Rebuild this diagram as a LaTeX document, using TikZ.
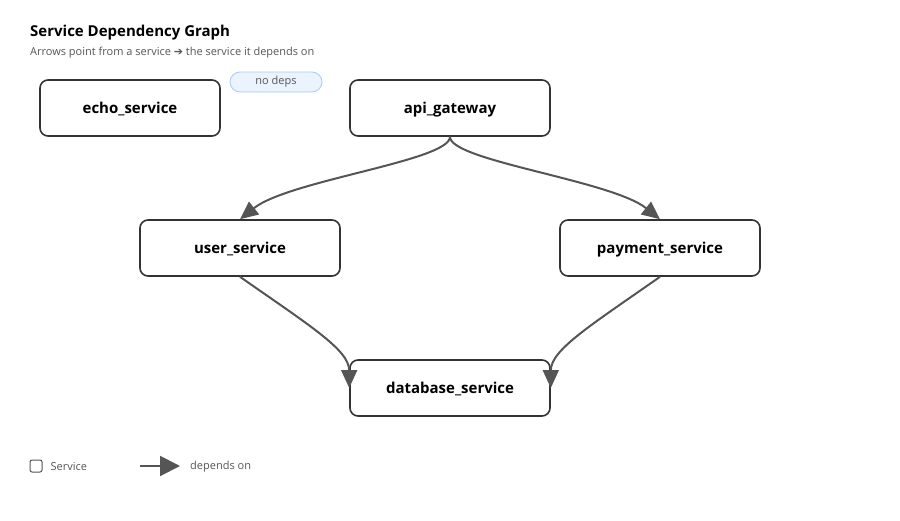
\documentclass[tikz,border=0pt]{standalone}
\usepackage{fontspec}
\setmainfont{Open Sans}
\newfontfamily\symfont{DejaVu Sans}
\usepackage{xcolor}
\usetikzlibrary{positioning, arrows.meta}

\definecolor{boxline}{HTML}{333333}
\definecolor{edge}{HTML}{555555}
\definecolor{subtext}{HTML}{555555}
\definecolor{badgefill}{HTML}{EAF3FE}
\definecolor{badgeline}{HTML}{A9CBF5}

\begin{document}
\begin{tikzpicture}[x = 1pt, y = -1pt, node distance = 8]

  \tikzstyle{service}=[rounded corners=8, draw=boxline, line width=1.6, fill=white, minimum width=200, minimum height=56, text height=11, text depth=1, text=black, font=\fontsize{15}{18}\selectfont\bfseries]
  \tikzstyle{badge}=[rounded corners=10, draw=badgeline, fill=badgefill, line width=0.8, minimum width=92, minimum height=20, text=subtext, font=\fontsize{11}{13}\selectfont]
  \tikzstyle{dep}=[-{Triangle[length=18, width=16]}, draw=edge, line width=2]
  \tikzstyle{note}=[inner sep=0, text=subtext, font=\fontsize{11}{13}\selectfont]

  \useasboundingbox (0,0) rectangle (900,520);

  \node [anchor=base west, inner sep=0, font=\fontsize{15}{18}\selectfont\bfseries] (title) at (30,36) {Service Dependency Graph};
  \node [note, anchor=base west] (subtitle) at (30,55) {Arrows point from a service {\symfont\fontsize{11}{13}\selectfont ➔} the service it depends on};

  \node [service, minimum width=180] (echo) at (130,108) {echo\_service};
  \node [badge] (nodeps) at (276,82) {no deps};
  \node [service] (api) at (450,108) {api\_gateway};
  \node [service] (user) at (240,248) {user\_service};
  \node [service] (payment) at (660,248) {payment\_service};
  \node [service] (db) at (450,388) {database\_service};

  \draw [dep] (api.south) .. controls +(0,24) and +(49,-39) .. (user.north);
  \draw [dep] (api.south) .. controls +(0,24) and +(-49,-39) .. (payment.north);
  \draw [dep] (user.south) .. controls +(70,49) and +(0,-38) .. (db.west);
  \draw [dep] (payment.south) .. controls +(-70,49) and +(0,-38) .. (db.east);

  % legend
  \node [draw=edge, line width=1, rounded corners=2, minimum size=12, inner sep=0] (legend-box) at (36,466) {};
  \node [note, right = of legend-box, node distance=8, yshift=-1] (legend-service) {Service};
  \coordinate (legend-from) at (140,466);
  \coordinate (legend-to) at (180,466);
  \draw [dep, -{Triangle[length=20, width=20]}] (legend-from) -- (legend-to);
  \node [note, anchor=west, yshift=-1] (legend-dep) at (190,466) {depends on};
\end{tikzpicture}
\end{document}
